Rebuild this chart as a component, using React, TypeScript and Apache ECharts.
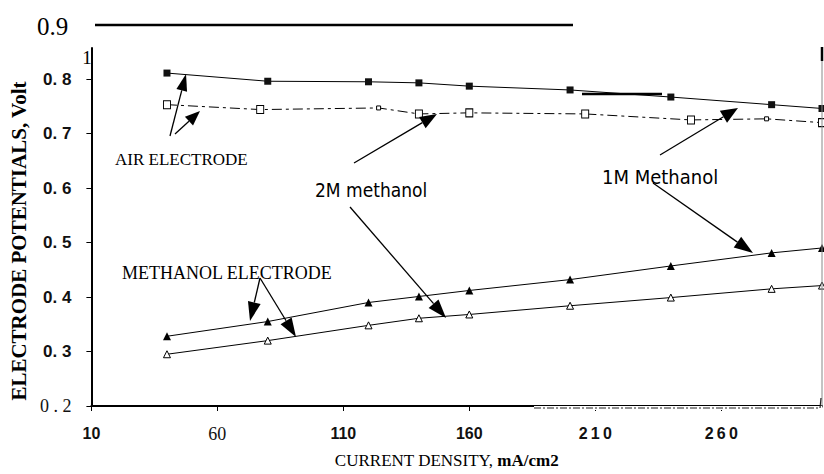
import React, { useEffect, useRef } from "react";
import * as echarts from "echarts";

// ---- data ----
const airX1M = [40, 80, 120, 140, 160, 200, 240, 280, 300];
const air1M = [0.811, 0.796, 0.795, 0.793, 0.787, 0.78, 0.767, 0.753, 0.746];
const airX2M = [40, 77, 124, 140, 160, 206, 248, 278, 300];
const air2M = [0.753, 0.744, 0.747, 0.736, 0.738, 0.736, 0.725, 0.727, 0.72];
const methX = [40, 80, 120, 140, 160, 200, 240, 280, 300];
const meth1M = [0.328, 0.355, 0.39, 0.401, 0.412, 0.432, 0.457, 0.481, 0.49];
const meth2M = [0.295, 0.32, 0.348, 0.361, 0.368, 0.384, 0.399, 0.415, 0.421];
const xTickLabels = ["10", "60", "110", "160", "210", "260"];
const yTickLabels = ["0 . 2", "0. 3", "0. 4", "0. 5", "0. 6", "0. 7", "0. 8"];

const SERIF = "'Liberation Serif', 'Times New Roman', serif";
const SANS = "'Liberation Sans', Arial, sans-serif";
const NARROW = "'Liberation Sans Narrow', 'DejaVu Sans Condensed', 'Liberation Sans', sans-serif";

function arrow(x1: number, y1: number, x2: number, y2: number, len = 16, w = 11) {
  const dx = x2 - x1, dy = y2 - y1;
  const L = Math.hypot(dx, dy);
  const ux = dx / L, uy = dy / L;
  const bx = x2 - ux * len, by = y2 - uy * len;
  const px = (-uy * w) / 2, py = (ux * w) / 2;
  return [
    { type: "line", z: 50, shape: { x1, y1, x2: bx, y2: by }, style: { stroke: "#000", lineWidth: 1.3 } },
    { type: "polygon", z: 50, shape: { points: [[x2, y2], [bx + px, by + py], [bx - px, by - py]] }, style: { fill: "#000" } },
  ];
}

function txt(text: string, x: number, y: number, font: string, align = "left") {
  return {
    type: "text",
    z: 50,
    x,
    y,
    style: { text, font, fill: "#000", textAlign: align, textVerticalAlign: "middle" },
  };
}

export default function App() {
  const ref = useRef<HTMLDivElement>(null);
  useEffect(() => {
    if (!ref.current) return;
    const chart = echarts.init(ref.current, undefined, { renderer: "svg" });
    const xLabelMap: Record<string, string> = {};
    xTickLabels.forEach((t) => {
      if (t === "60") xLabelMap[t] = `{s|${t}}`;
      else if (t === "210" || t === "260") xLabelMap[t] = `{b|${t.split("").join("\u2009")}}`;
      else xLabelMap[t] = `{b|${t}}`;
    });
    const yLabelMap: Record<string, string> = {};
    yTickLabels.forEach((t, i) => {
      const key = (0.2 + i * 0.1).toFixed(1);
      yLabelMap[key] = i === 0 ? `{s|${t}}` : `{b|${t}}`;
    });

    const option: any = {
      animation: false,
      backgroundColor: "#fff",
      grid: { left: 89, right: 2, top: 48, bottom: 66 },
      xAxis: {
        type: "value",
        min: 10,
        max: 300,
        interval: 50,
        splitLine: { show: false },
        axisLine: { lineStyle: { color: "#000", width: 2 } },
        axisTick: { length: 5, lineStyle: { color: "#000" } },
        axisLabel: {
          margin: 19,
          showMaxLabel: false,
          formatter: (v: number) => xLabelMap[String(Math.round(v))] ?? "",
          rich: {
            b: { fontFamily: SANS, fontWeight: "bold", fontSize: 16, color: "#111" },
            s: { fontFamily: SERIF, fontSize: 18, color: "#111" },
          },
        },
        name: "{a|CURRENT DENSITY, }{b|mA/cm2}",
        nameLocation: "middle",
        nameGap: 46,
        nameTextStyle: {
          padding: [0, 20, 0, 0],
          rich: {
            a: { fontFamily: SERIF, fontSize: 17, color: "#000" },
            b: { fontFamily: SERIF, fontSize: 17, fontWeight: "bold", color: "#000" },
          },
        },
      },
      yAxis: {
        type: "value",
        min: 0.2,
        max: 0.857,
        interval: 0.1,
        splitLine: { show: false },
        axisLine: { show: true, lineStyle: { color: "#000", width: 2 } },
        axisTick: { show: true, length: 5, lineStyle: { color: "#000" } },
        axisLabel: {
          margin: 20,
          showMaxLabel: false,
          formatter: (v: number) => yLabelMap[v.toFixed(1)] ?? "",
          rich: {
            b: { fontFamily: SANS, fontWeight: "bold", fontSize: 17, color: "#111" },
            s: { fontFamily: SERIF, fontSize: 18, color: "#111" },
          },
        },
        name: "ELECTRODE POTENTIALS, Volt",
        nameLocation: "middle",
        nameGap: 62,
        nameTextStyle: { fontFamily: SERIF, fontWeight: "bold", fontSize: 21, color: "#000", padding: [0, 28, 0, 0] },
      },
      series: [
        {
          name: "Air 1M",
          type: "line",
          data: airX1M.map((x, i) => [x, air1M[i]]),
          symbol: "rect",
          symbolSize: 7,
          lineStyle: { color: "#000", width: 1 },
          itemStyle: { color: "#111" },
        },
        {
          name: "Air 2M",
          type: "line",
          data: airX2M.map((x, i) => ({
            value: [x, air2M[i]],
            symbolSize: i === 2 || i === 7 ? [4, 4] : [7, 8],
          })),
          symbol: "rect",
          lineStyle: { color: "#000", width: 1, type: [10, 4, 3, 4] },
          itemStyle: { color: "#fff", borderColor: "#000", borderWidth: 1 },
        },
        {
          name: "Methanol 1M",
          type: "line",
          data: methX.map((x, i) => [x, meth1M[i]]),
          symbol: "triangle",
          symbolSize: 8,
          lineStyle: { color: "#000", width: 1 },
          itemStyle: { color: "#000" },
        },
        {
          name: "Methanol 2M",
          type: "line",
          data: methX.map((x, i) => [x, meth2M[i]]),
          symbol: "triangle",
          symbolSize: 7,
          lineStyle: { color: "#000", width: 1 },
          itemStyle: { color: "#fff", borderColor: "#000", borderWidth: 1 },
        },
      ],
      graphic: [
        txt("0.9", 37, 26, `25px ${SERIF}`),
        { type: "line", z: 50, shape: { x1: 95, y1: 25, x2: 573, y2: 25 }, style: { stroke: "#000", lineWidth: 2.5 } },
        txt("1", 87, 57, `19px ${SERIF}`, "center"),
        // right border and bottom axis remainder
        { type: "line", z: 40, shape: { x1: 822, y1: 48, x2: 822, y2: 408 }, style: { stroke: "#888", lineWidth: 1 } },
        { type: "line", z: 41, shape: { x1: 822, y1: 47, x2: 822, y2: 61 }, style: { stroke: "#000", lineWidth: 2.5 } },
        { type: "rect", z: 42, shape: { x: 534, y: 406, width: 288, height: 4 }, style: { fill: "#fff" } },
        { type: "line", z: 43, shape: { x1: 534, y1: 408, x2: 820, y2: 408 }, style: { stroke: "#222", lineWidth: 1.2, lineDash: [7, 2, 2, 2] } },
        { type: "line", z: 43, shape: { x1: 820, y1: 408, x2: 821, y2: 398 }, style: { stroke: "#222", lineWidth: 1.2 } },
        { type: "line", z: 43, shape: { x1: 582, y1: 94, x2: 662, y2: 94 }, style: { stroke: "#000", lineWidth: 2.5 } },
        // annotations
        txt("AIR ELECTRODE", 115, 159, `17px ${SERIF}`),
        ...arrow(170, 136, 186, 74, 17, 11),
        ...arrow(175, 134, 200, 111, 15, 12),
        txt("2M methanol", 315, 190, `19px ${NARROW}`),
        ...arrow(354, 163, 437, 114, 17, 13),
        ...arrow(350, 207, 446, 318, 19, 13),
        txt("1M Methanol", 602, 177, `20px ${NARROW}`),
        ...arrow(660, 155, 738, 108, 17, 14),
        ...arrow(653, 183, 753, 253, 19, 13),
        txt("METHANOL ELECTRODE", 122, 273, `18px ${SERIF}`),
        ...arrow(260, 278, 250, 321, 19, 13),
        ...arrow(260, 278, 296, 337, 19, 13),
      ],
    };
    chart.setOption(option);
    return () => chart.dispose();
  }, []);
  return (
    <div
      ref={ref}
      style={{ position: "fixed", left: 0, top: 0, width: 824, height: 474, background: "#fff" }}
    />
  );
}
